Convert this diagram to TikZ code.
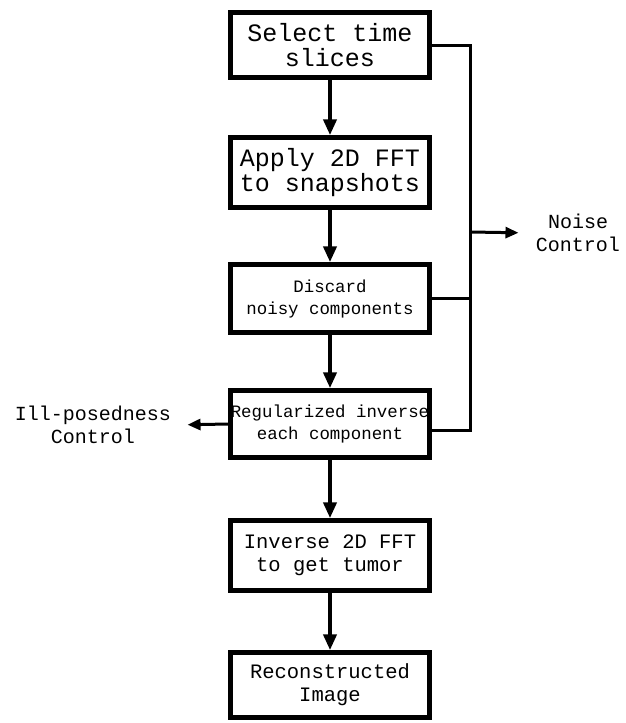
\documentclass[tikz,border=0pt]{standalone}
\usepackage{fontspec}
\setmainfont{Liberation Mono}
\usetikzlibrary{arrows.meta}
\begin{document}
\begin{tikzpicture}[x=1pt,y=-1pt,
 box/.style={draw,line width=4.5pt,minimum width=199pt,align=center,inner sep=0pt},
 big/.style={font=\fontsize{25}{24.5}\selectfont},
 mid/.style={font=\fontsize{20.5}{23}\selectfont},
 small/.style={font=\fontsize{17.4}{22}\selectfont},
 varr/.style={line width=4pt,-{Triangle[length=16pt,width=13pt]}},
 harr/.style={line width=3pt,-{Triangle[length=13pt,width=11pt]}},
 conn/.style={line width=3pt}]
\useasboundingbox (0,0) rectangle (626,723);
\node[box,big,minimum height=65pt] (b1) at (330,45) {Select time\\slices};
\node[box,big,minimum height=70pt] (b2) at (330,172.5) {Apply 2D FFT\\to snapshots};
\node[box,small,minimum height=68pt] (b3) at (330,298.5) {Discard\\noisy components};
\node[box,small,minimum height=67pt] (b4) at (330,424) {Regularized inverse\\each component};
\node[box,mid,minimum height=70pt] (b5) at (330,555.5) {Inverse 2D FFT\\to get tumor};
\node[box,mid,minimum height=65pt] (b6) at (330,685) {Reconstructed\\Image};
\draw[varr] (b1) -- (b2);
\draw[varr] (b2) -- (b3);
\draw[varr] (b3) -- (b4);
\draw[varr] (b4) -- (b5);
\draw[varr] (b5) -- (b6);
\coordinate (busx) at (470,0);
\coordinate (b4r) at ([yshift=-6pt]b4.east);
\draw[conn] (b1.east) -- (b1.east -| busx) -- (b4r -| busx) -- (b4r);
\draw[conn] (b3.east) -- (b3.east -| busx);
\coordinate (nstart) at (470,232);
\node[mid,align=center,font=\fontsize{20}{23}\selectfont] (noise) at (578,233) {Noise\\Control};
\draw[harr,shorten >=14pt] (nstart) -- (noise.west);
\node[mid,align=center,font=\fontsize{20}{23}\selectfont] (ill) at (93,425) {Ill-posedness\\Control};
\draw[harr,shorten >=13pt] (b4.west) -- (ill.east);
\end{tikzpicture}
\end{document}
